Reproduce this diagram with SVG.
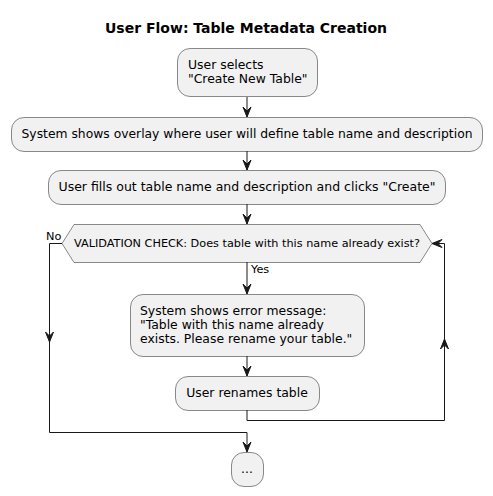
<svg xmlns="http://www.w3.org/2000/svg" width="493" height="496" viewBox="0 0 493 496">
<defs>
<style>
.node{fill:#F1F1F1;stroke:#181818;stroke-width:0.5}
.t{font-family:"DejaVu Sans",sans-serif;font-size:12.4px;fill:#000}
.s{font-family:"DejaVu Sans",sans-serif;font-size:11.3px;fill:#000}
.title{font-family:"DejaVu Sans",sans-serif;font-size:14px;font-weight:bold;fill:#000}
.ln{fill:none;stroke:#181818;stroke-width:1}
.ah{fill:#181818;stroke:#181818;stroke-width:1}
</style>
</defs>
<rect width="493" height="496" fill="#FFFFFF"/>
<text class="title" x="246" y="33" text-anchor="middle">User Flow: Table Metadata Creation</text>
<g id="n1"><rect class="node" x="177.5" y="48.5" width="140" height="48" rx="12.5"/><text class="t" x="188" y="69">User selects</text><text class="t" x="188" y="83">"Create New Table"</text></g>
<g id="n2"><rect class="node" x="11.5" y="117.5" width="471" height="34" rx="12.5"/><text class="t" x="247" y="138" text-anchor="middle" textLength="451" lengthAdjust="spacingAndGlyphs">System shows overlay where user will define table name and description</text></g>
<g id="n3"><rect class="node" x="48.5" y="170.5" width="397" height="34" rx="12.5"/><text class="t" x="247" y="191" text-anchor="middle" textLength="377" lengthAdjust="spacingAndGlyphs">User fills out table name and description and clicks "Create"</text></g>
<g id="n4"><polygon class="node" points="74,224.5 420,224.5 432,243.5 420,262.5 74,262.5 62,243.5"/><text class="s" x="247" y="247" text-anchor="middle" textLength="346" lengthAdjust="spacingAndGlyphs">VALIDATION CHECK: Does table with this name already exist?</text></g>
<g id="n5"><rect class="node" x="130.5" y="294.5" width="234" height="62" rx="12.5"/><text class="t" x="140" y="315">System shows error message:</text><text class="t" x="140" y="329">"Table with this name already</text><text class="t" x="140" y="343">exists. Please rename your table."</text></g>
<g id="n6"><rect class="node" x="175.5" y="376.5" width="144" height="34" rx="12.5"/><text class="t" x="247" y="397" text-anchor="middle">User renames table</text></g>
<g id="n7"><rect class="node" x="231.5" y="452.5" width="32" height="34" rx="12.5"/><text class="t" x="247" y="473" text-anchor="middle">...</text></g>
<g id="connectors">
<line class="ln" x1="247" y1="97" x2="247" y2="117"/><polygon class="ah" points="243,107 247,117 251,107 247,111"/>
<line class="ln" x1="247" y1="151" x2="247" y2="170"/><polygon class="ah" points="243,160 247,170 251,160 247,164"/>
<line class="ln" x1="247" y1="204" x2="247" y2="224"/><polygon class="ah" points="243,214 247,224 251,214 247,218"/>
<line class="ln" x1="247" y1="262" x2="247" y2="294"/><polygon class="ah" points="243,284 247,294 251,284 247,288"/>
<text class="s" x="251" y="273">Yes</text>
<line class="ln" x1="247" y1="356" x2="247" y2="376"/><polygon class="ah" points="243,366 247,376 251,366 247,370"/>
<polyline class="ln" points="247,410 247,420.5 444.5,420.5 444.5,243.5 432,243.5"/>
<polygon class="ah" points="440.5,349 444.5,339 448.5,349 444.5,345"/>
<polygon class="ah" points="442,239.5 432,243.5 442,247.5 438,243.5"/>
<polyline class="ln" points="62,243.5 49.5,243.5 49.5,432.5 247,432.5 247,452"/>
<polygon class="ah" points="45.5,332 49.5,342 53.5,332 49.5,336"/>
<polygon class="ah" points="243,442 247,452 251,442 247,446"/>
<text class="s" x="46" y="240">No</text>
</g>
</svg>
